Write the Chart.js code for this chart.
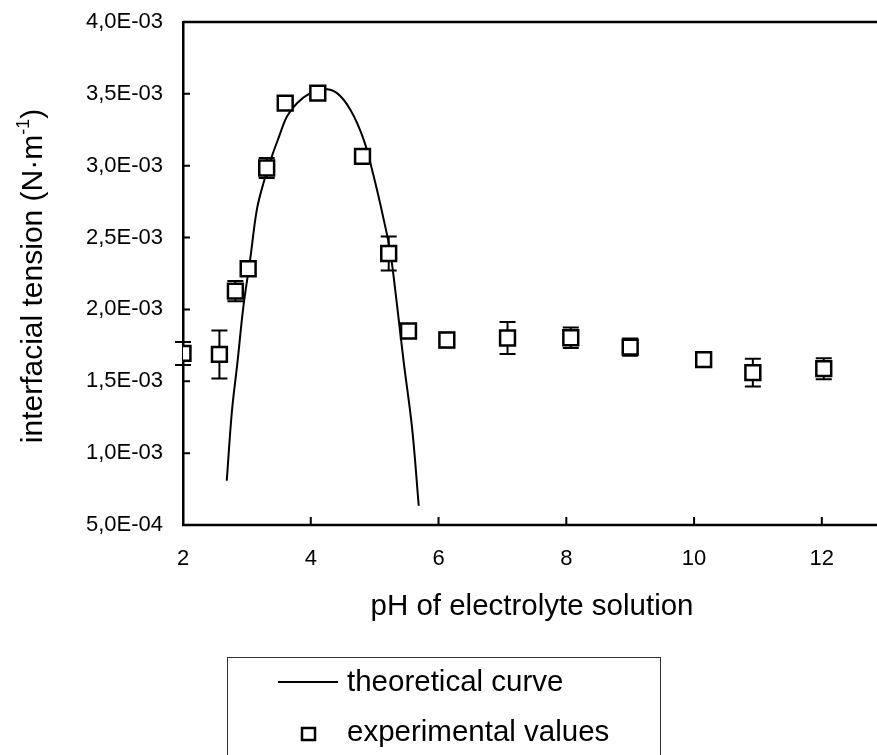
<!DOCTYPE html>
<html>
<head>
<meta charset="utf-8">
<script src="https://cdn.jsdelivr.net/npm/chart.js@4.4.1/dist/chart.umd.min.js"></script>
<style>
    html, body { margin: 0; padding: 0; background: #fff; overflow: hidden; }
    #chart { display: block; }
</style>
</head>
<body>
<canvas id="chart" width="877" height="755"></canvas>
<script>
// experimental points (pH, tension in 1E-03 N/m, +/- error)
const expPh = [2.0, 2.57, 2.82, 3.02, 3.31, 3.6, 4.11, 4.81, 5.22, 5.53, 6.13, 7.08, 8.07, 9.0, 10.15, 10.92, 12.03];
const expTension = [1.694, 1.687, 2.127, 2.283, 2.984, 3.435, 3.505, 3.065, 2.389, 1.85, 1.787, 1.801, 1.803, 1.738, 1.651, 1.56, 1.588];
const expError = [0.08, 0.167, 0.07, 0.04, 0.07, 0, 0.02, 0, 0.118, 0, 0.05, 0.112, 0.072, 0.06, 0, 0.097, 0.073];

// theoretical curve
const curvePh = [2.685, 2.764, 2.852, 2.946, 3.051, 3.156, 3.26, 3.391, 3.495, 3.627, 3.784, 3.992, 4.2, 4.411, 4.62, 4.828, 4.985, 5.142, 5.247, 5.352, 5.456, 5.588, 5.69];
const curveTension = [0.808, 1.283, 1.63, 2.023, 2.347, 2.694, 2.88, 3.065, 3.192, 3.342, 3.435, 3.505, 3.533, 3.505, 3.389, 3.181, 2.926, 2.625, 2.394, 2.023, 1.63, 1.167, 0.634];

const xTicks = [2, 4, 6, 8, 10, 12];
const yTicks = [0.0005, 0.001, 0.0015, 0.002, 0.0025, 0.003, 0.0035, 0.004];

const seriesNames = ['theoretical curve', 'experimental values'];
const xTitle = 'pH of electrolyte solution';
const yTitle = 'interfacial tension (N·m';

const FONT = "'Liberation Sans', Arial, sans-serif";

function FormatTick(v) {
    let s = v.toExponential(1).split('e');
    let mant = s[0].replace('.', ',');
    let ex = parseInt(s[1], 10);
    let sign = ex < 0 ? '-' : '+';
    let digits = String(Math.abs(ex)).padStart(2, '0');
    return mant + 'E' + sign + digits;
}

function ToPoints(xs, ys) {
    let pts = [];
    for (let i = 0; i < xs.length; i++) {
        pts.push({ x: xs[i], y: ys[i] / 1000 });
    }
    return pts;
}

// error bars, drawn under the squares
const errorBars = {
    id: 'errorBars',
    beforeDatasetsDraw(chart) {
        let ctx = chart.ctx;
        let xs = chart.scales.x;
        let ys = chart.scales.y;
        ctx.save();
        ctx.strokeStyle = '#000';
        ctx.lineWidth = 2;
        for (let i = 0; i < expPh.length; i++) {
            if (expError[i] <= 0) continue;
            let px = xs.getPixelForValue(expPh[i]);
            let top = ys.getPixelForValue((expTension[i] + expError[i]) / 1000);
            let bot = ys.getPixelForValue((expTension[i] - expError[i]) / 1000);
            ctx.beginPath();
            ctx.moveTo(px, top);
            ctx.lineTo(px, bot);
            ctx.moveTo(px - 8, top);
            ctx.lineTo(px + 8, top);
            ctx.moveTo(px - 8, bot);
            ctx.lineTo(px + 8, bot);
            ctx.stroke();
        }
        ctx.restore();
    }
};

// frame, inward ticks, axis titles and boxed legend
const decorations = {
    id: 'decorations',
    afterDraw(chart) {
        let ctx = chart.ctx;
        let area = chart.chartArea;
        let xs = chart.scales.x;
        let ys = chart.scales.y;
        ctx.save();
        ctx.strokeStyle = '#000';
        ctx.lineWidth = 2.5;
        ctx.beginPath();
        // frame runs off the right edge like the cropped original
        ctx.moveTo(area.left, area.top);
        ctx.lineTo(chart.width, area.top);
        ctx.moveTo(area.left - 1, area.bottom);
        ctx.lineTo(chart.width, area.bottom);
        ctx.stroke();
        ctx.lineWidth = 2;
        ctx.beginPath();
        for (let v of xTicks) {
            let px = xs.getPixelForValue(v);
            ctx.moveTo(px, area.bottom);
            ctx.lineTo(px, area.bottom - 8);
        }
        for (let v of yTicks) {
            let py = ys.getPixelForValue(v);
            ctx.moveTo(area.left, py);
            ctx.lineTo(area.left + 7, py);
        }
        ctx.stroke();

        ctx.fillStyle = '#000';
        ctx.font = '29.5px ' + FONT;
        ctx.textAlign = 'center';
        ctx.textBaseline = 'alphabetic';
        ctx.fillText(xTitle, 532, 615);

        // y title with superscript
        ctx.save();
        ctx.translate(42, 276);
        ctx.rotate(-Math.PI / 2);
        ctx.font = '30px ' + FONT;
        let w1 = ctx.measureText(yTitle).width;
        ctx.font = '18px ' + FONT;
        let w2 = ctx.measureText('-1').width;
        ctx.font = '30px ' + FONT;
        let w3 = ctx.measureText(')').width;
        let start = -(w1 + w2 + w3) / 2;
        ctx.textAlign = 'left';
        ctx.fillText(yTitle, start, 0);
        ctx.font = '18px ' + FONT;
        ctx.fillText('-1', start + w1, -13);
        ctx.font = '30px ' + FONT;
        ctx.fillText(')', start + w1 + w2, 0);
        ctx.restore();

        // legend
        ctx.lineWidth = 1;
        ctx.strokeStyle = '#333';
        ctx.strokeRect(227.5, 657.5, 433, 140);
        ctx.strokeStyle = '#000';
        ctx.lineWidth = 2;
        ctx.beginPath();
        ctx.moveTo(278, 682);
        ctx.lineTo(338, 682);
        ctx.stroke();
        ctx.lineWidth = 2.5;
        ctx.fillStyle = '#fff';
        ctx.fillRect(302, 728, 13, 12);
        ctx.strokeRect(302, 728, 13, 12);
        ctx.fillStyle = '#000';
        ctx.textAlign = 'left';
        ctx.font = '29.5px ' + FONT;
        ctx.fillText(seriesNames[0], 347, 691);
        ctx.fillText(seriesNames[1], 347, 741);
        ctx.restore();
    }
};

function ChartSetup() {
    const data = {
        datasets: [{
            label: seriesNames[0],
            data: ToPoints(curvePh, curveTension),
            showLine: true,
            borderColor: '#000',
            borderWidth: 2,
            pointRadius: 0,
            tension: 0.35,
            order: 1
        }, {
            label: seriesNames[1],
            data: ToPoints(expPh, expTension),
            showLine: false,
            pointStyle: 'rect',
            pointRadius: 10.5,
            pointBackgroundColor: '#fff',
            pointBorderColor: '#000',
            pointBorderWidth: 2.5,
            order: 0
        }]
    };

    const config = {
        type: 'scatter',
        data: data,
        options: {
            responsive: false,
            animation: false,
            devicePixelRatio: 1,
            layout: { padding: { top: 22, right: 0, left: 0, bottom: 0 } },
            plugins: {
                legend: { display: false },
                tooltip: { enabled: false }
            },
            scales: {
                x: {
                    type: 'linear',
                    min: 2,
                    max: 12.66,
                    afterFit: function (scale) {
                        scale.height = 230;
                    },
                    grid: { display: false, drawTicks: false },
                    border: { display: false },
                    ticks: {
                        stepSize: 2,
                        includeBounds: false,
                        autoSkip: false,
                        maxRotation: 0,
                        padding: 21,
                        color: '#000',
                        font: { family: FONT, size: 22 }
                    }
                },
                y: {
                    type: 'linear',
                    min: 0.0005,
                    max: 0.004,
                    afterFit: function (scale) {
                        scale.width = 183;
                        scale.paddingTop = 0;
                        scale.paddingBottom = 0;
                    },
                    grid: { display: false, drawTicks: false },
                    border: { display: true, color: '#000', width: 2.5 },
                    ticks: {
                        stepSize: 0.0005,
                        autoSkip: false,
                        padding: 20,
                        color: '#000',
                        font: { family: FONT, size: 22 },
                        callback: function (value) {
                            return FormatTick(value);
                        }
                    }
                }
            }
        },
        plugins: [errorBars, decorations]
    };

    new Chart(document.getElementById('chart'), config);
}

ChartSetup();
</script>
</body>
</html>
